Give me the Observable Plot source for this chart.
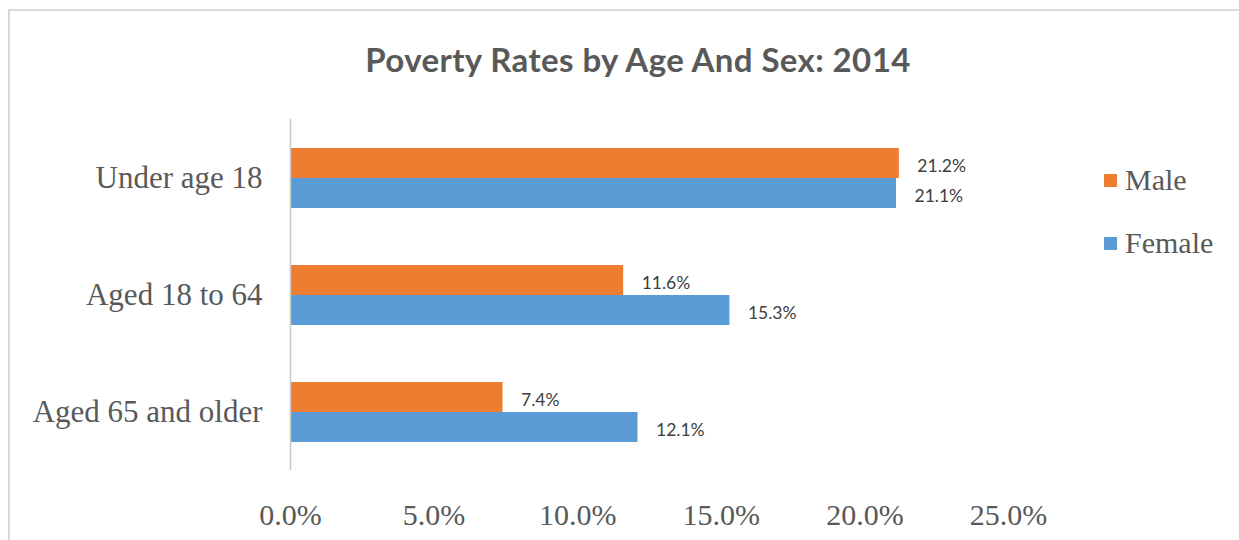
<!DOCTYPE html>
<html>
<head>
<meta charset="utf-8">
<script src="https://cdn.jsdelivr.net/npm/d3@7"></script>
<script src="https://cdn.jsdelivr.net/npm/@observablehq/plot@0.6"></script>
<style>
  html, body { margin: 0; padding: 0; background: #fff; }
  #wrap { position: relative; width: 1239px; height: 540px; overflow: hidden; }
  #frame { position: absolute; left: 8px; top: 9px; width: 1300px; height: 600px;
           border-top: 2px solid #d9d9d9; border-left: 2px solid #d9d9d9; box-sizing: border-box; }
  #title { position: absolute; left: 0; top: 37px; width: 1276px; text-align: center;
           font-family: Lato, sans-serif; font-weight: bold; font-size: 33px; letter-spacing: 0.4px;
           color: #595959; line-height: 44px; }
  #chart { position: absolute; left: 0; top: 100px; }
  .leg { position: absolute; left: 1104px; font-family: "Liberation Serif", serif; font-size: 30px;
         color: #595959; line-height: 30px; }
  .leg span.sw { display: inline-block; width: 13px; height: 13px; margin-right: 8px; vertical-align: 3px; }
</style>
</head>
<body>
<div id="wrap">
  <div id="frame"></div>
  <div id="title">Poverty Rates by Age And Sex: 2014</div>
  <div id="chart"></div>
  <div id="legend"></div>
</div>
<script>
const ageGroups = ["Under age 18", "Aged 18 to 64", "Aged 65 and older"];
const sexes = ["Male", "Female"];
const maleRates = [21.2, 11.6, 7.4];
const femaleRates = [21.1, 15.3, 12.1];
const xTicks = [0, 5, 10, 15, 20, 25];
const colors = ["#ED7D31", "#5B9BD5"];

const data = [];
ageGroups.forEach((age, i) => {
  data.push({age, sex: "Male", value: maleRates[i]});
  data.push({age, sex: "Female", value: femaleRates[i]});
});

const serif = "'Liberation Serif', 'Times New Roman', serif";

const chart = Plot.plot({
  width: 1239,
  height: 440,
  marginLeft: 290,
  marginRight: 231,
  marginTop: 18,
  marginBottom: 70,
  style: {fontFamily: serif, fontSize: "29px", color: "#595959", background: "transparent"},
  x: {domain: [0, 25], label: null},
  y: {domain: sexes, paddingInner: 0, paddingOuter: 0.92, axis: null},
  fy: {domain: ageGroups, padding: 0, label: null},
  color: {domain: sexes, range: colors},
  marks: [
    Plot.axisX({ticks: xTicks, tickFormat: d => d.toFixed(1) + "%", tickSize: 0, tickPadding: 33,
      label: null, fontFamily: serif, fontSize: 30, fontVariant: "normal", fill: "#595959"}),
    Plot.axisFy({anchor: "left", tickSize: 0, tickPadding: 28, label: null,
      fontFamily: serif, fontSize: 31, fill: "#595959"}),
    Plot.barX(data, {x: "value", y: "sex", fy: "age", fill: "sex"}),
    Plot.ruleX([0], {stroke: "#c8c8c8", strokeWidth: 1.5}),
    Plot.text(data, {x: "value", y: "sex", fy: "age", text: d => d.value.toFixed(1) + "%",
      dx: 18, dy: 3, textAnchor: "start", fontFamily: "Lato, sans-serif", fontSize: 17.5, fill: "#404040"})
  ]
});
document.getElementById("chart").appendChild(chart);
chart.querySelectorAll('[aria-label^="x-axis"] text, [aria-label^="x-axis"]').forEach(t => {
  t.style.fontFamily = "'Liberation Serif', serif";
});

const legend = document.getElementById("legend");
sexes.forEach((s, i) => {
  const d = document.createElement("div");
  d.className = "leg";
  d.style.top = (165 + i * 63) + "px";
  d.innerHTML = `<span class="sw" style="background:${colors[i]}"></span>${s}`;
  legend.appendChild(d);
});
</script>
</body>
</html>
